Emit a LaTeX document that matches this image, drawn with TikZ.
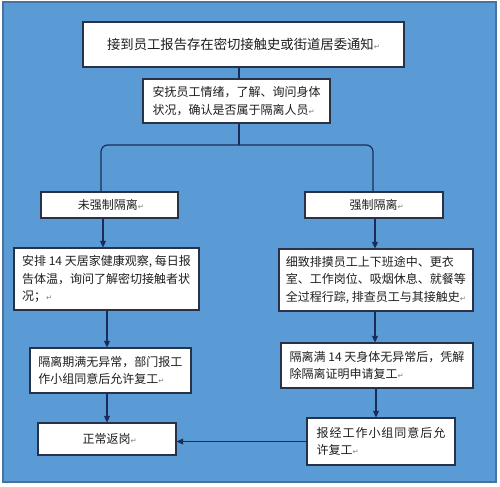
\documentclass[tikz,border=0pt]{standalone}
\usepackage{fontspec}
\setmainfont{Noto Sans CJK SC}
\newfontfamily\symfont{DejaVu Sans}
\usetikzlibrary{arrows.meta}
\definecolor{bgblue}{RGB}{91,155,213}
\definecolor{bgedge}{RGB}{70,115,160}
\definecolor{boxedge}{RGB}{40,50,70}
\definecolor{linecol}{RGB}{25,45,90}
\definecolor{txt}{RGB}{30,30,30}
\newcommand\retmark{{\symfont\fontsize{5.5pt}{6pt}\selectfont\textcolor{gray}{↵}}}
\begin{document}
\begin{tikzpicture}[x=0.75pt,y=-0.75pt,
  box/.style={draw=boxedge,fill=white,line width=0.8pt,inner sep=0pt,text=txt,
    font=\fontsize{9pt}{13pt}\selectfont},
  lbox/.style={box,align=left},
  cbox/.style={box,align=center},
  conn/.style={draw=linecol,line width=0.9pt},
  arr/.style={conn,-{Triangle[length=5pt,width=4.5pt]}}]
\useasboundingbox (0,0) rectangle (500,486);
\fill[white] (0,0) rectangle (500,486);
\filldraw[fill=bgblue,draw=bgedge,line width=0.8pt] (3,2) rectangle (496,482);

\node[cbox,minimum width=240.75pt,minimum height=33.75pt,font=\fontsize{10pt}{13pt}\selectfont] (top) at (243.5,44.5)
  {接到员工报告存在密切接触史或街道居委通知\retmark};
\node[lbox,minimum width=140.25pt,minimum height=33pt] (b2) at (236.5,101)
  {安抚员工情绪，了解、询问身体\\状况，确认是否属于隔离人员\retmark};
\node[cbox,minimum width=102.75pt,minimum height=19.5pt] (L1) at (109.5,205)
  {\hspace*{2pt}未强制隔离\retmark};
\node[cbox,minimum width=103.5pt,minimum height=19.5pt] (R1) at (374,205)
  {\hspace*{4pt}强制隔离\retmark};
\node[lbox,minimum width=138.75pt,minimum height=46.5pt] (L2) at (106.5,279)
  {安排 14 天居家健康观察, 每日报\\告体温，询问了解密切接触者状\\况；\retmark};
\node[lbox,minimum width=145.5pt,minimum height=46.5pt] (R2) at (376,280)
  {细致排摸员工上下班途中、更衣\\室、工作岗位、吸烟休息、就餐等\\全过程行踪, 排查员工与其接触史\retmark};
\node[lbox,minimum width=120.75pt,minimum height=33.75pt] (L3) at (110.5,370.5)
  {隔离期满无异常，部门报工\\作小组同意后允许复工\retmark};
\node[lbox,minimum width=144pt,minimum height=33.75pt] (R3) at (377,365.5)
  {隔离满 14 天身体无异常后，凭解\\除隔离证明申请复工\retmark};
\node[cbox,minimum width=103.5pt,minimum height=24pt] (L4) at (107,439)
  {\hspace*{4pt}正常返岗\retmark};
\node[lbox,minimum width=111pt,minimum height=35.25pt] (R4) at (381,441.5)
  {\addfontfeature{LetterSpace=8}报经工作小组同意后允\\许复工\retmark};

\coordinate (J) at (239,145);
\draw[conn] ([shift={(-4.5,0)}]top.south) -- ([shift={(2.5,0)}]b2.north);
\draw[conn] ([shift={(2.5,0)}]b2.south) -- (J);
\draw[conn,rounded corners=5] ([shift={(-8.5,0)}]L1.north) |- (J) -| ([shift={(-1,0)}]R1.north);

\draw[arr] ([shift={(-6.5,0)}]L1.south) -- ([shift={(-3.5,0)}]L2.north);
\draw[arr] ([shift={(1,0)}]R1.south) -- ([shift={(-1,0)}]R2.north);
\draw[arr] ([shift={(0.5,0)}]L2.south) -- ([shift={(-3.5,0)}]L3.north);
\draw[arr] ([shift={(-1,0)}]R2.south) -- ([shift={(-2,0)}]R3.north);
\draw[arr] ([shift={(-3.5,0)}]L3.south) -- (L4.north);
\draw[arr] ([shift={(-1,0)}]R3.south) -- ([shift={(-5,0)}]R4.north);
\draw[arr] (R4.west) -- (L4.east |- R4.west);
\end{tikzpicture}
\end{document}
